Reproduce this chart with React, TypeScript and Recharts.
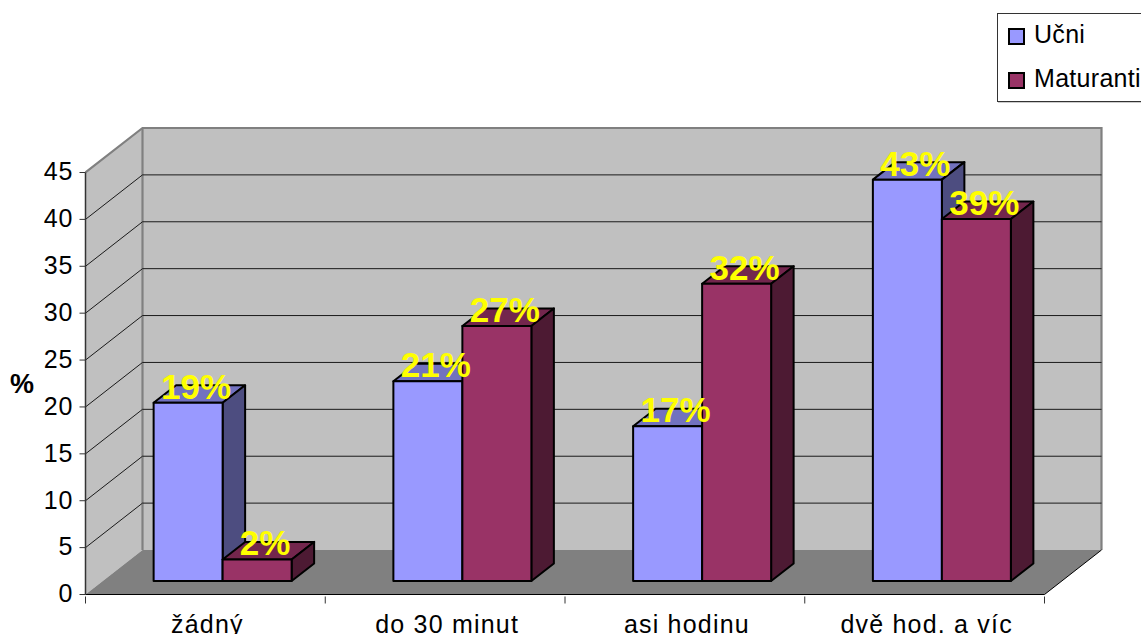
import { BarChart, Bar, XAxis, YAxis, CartesianGrid, LabelList, Legend } from 'recharts';

const categories = ['žádný', 'do 30 minut', 'asi hodinu', 'dvě hod. a víc'];
const ucni = [19, 21.3, 16.5, 42.8];
const maturanti = [2.3, 27.2, 31.7, 38.6];
const yTicks = [0, 5, 10, 15, 20, 25, 30, 35, 40, 45];
const seriesOrder = ['ucni', 'maturanti'];

const data = categories.map((name, i) => ({ name, ucni: ucni[i], maturanti: maturanti[i] }));

const FONT = '"Liberation Sans", Arial, sans-serif';

// fake 3D: floor/wall depth and how far the bars sit inside it
const WALL_DX = 57;
const WALL_DY = -44.5;
const BAR_SHIFT_X = 17.3;
const BAR_SHIFT_Y = -13.5;
const BAR_DEPTH_X = 22.5;
const BAR_DEPTH_Y = -17.5;

const COLORS = {
  ucni: { front: '#9999FF', top: '#7272BF', side: '#4D4D80' },
  maturanti: { front: '#993366', top: '#73264D', side: '#4D1A33' },
};

function Bar3D({ x, y, width, height, shades }: any) {
  const l = x + BAR_SHIFT_X;
  const t = y + BAR_SHIFT_Y;
  const r = l + width;
  const b = t + height;
  const dx = BAR_DEPTH_X;
  const dy = BAR_DEPTH_Y;
  return (
    <g stroke="#000" strokeWidth={2} strokeLinejoin="round">
      <polygon points={`${l},${t} ${r},${t} ${r + dx},${t + dy} ${l + dx},${t + dy}`} fill={shades.top} />
      <polygon points={`${r},${t} ${r + dx},${t + dy} ${r + dx},${b + dy} ${r},${b}`} fill={shades.side} />
      <rect x={l} y={t} width={width} height={height} fill={shades.front} />
    </g>
  );
}

// grid lines run along the left wall and the back wall; walls are painted with the baseline
function GridLine({ x1, x2, y1, index }: any) {
  const backY = y1 + WALL_DY;
  const backL = x1 + WALL_DX;
  const backR = x2 + WALL_DX;
  if (index === 0) {
    const topFront = y1 - 45 * 9.378;
    const topBack = topFront + WALL_DY;
    return (
      <g key="walls">
        <polygon points={`${x1},${y1} ${backL},${backY} ${backL},${topBack} ${x1},${topFront}`} fill="#C0C0C0" />
        <polygon points={`${backL},${backY} ${backR},${backY} ${backR},${topBack} ${backL},${topBack}`} fill="#C0C0C0" />
        <polygon points={`${x1},${y1} ${backL},${backY} ${backR},${backY} ${x2},${y1}`} fill="#808080" />
        <polyline
          points={`${x1},${topFront} ${backL},${topBack} ${backR},${topBack} ${backR},${backY}`}
          fill="none"
          stroke="#808080"
          strokeWidth={2.2}
        />
        <line x1={backL} y1={topBack} x2={backL} y2={backY} stroke="#808080" strokeWidth={2.2} />
        <line x1={x2} y1={y1} x2={backR} y2={backY} stroke="#000" strokeWidth={1} />
      </g>
    );
  }
  if (index === yTicks.length - 1) return <g key="top" />;
  return (
    <g key={index} stroke="#1a1a1a" strokeWidth={1}>
      <line x1={x1} y1={y1} x2={backL} y2={backY} />
      <line x1={backL} y1={backY} x2={backR} y2={backY} />
    </g>
  );
}

const TICK_STEP = 959 / categories.length;

function CategoryTick({ x, y, payload, index }: any) {
  const left = x - TICK_STEP / 2;
  return (
    <g>
      <line x1={left} y1={y - 6} x2={left} y2={y + 1} stroke="#333" />
      {index === categories.length - 1 && <line x1={left + TICK_STEP} y1={y - 6} x2={left + TICK_STEP} y2={y + 1} stroke="#333" />}
      <text x={x + 2} y={y + 30} textAnchor="middle" fontSize={25} letterSpacing={1.2} fill="#000" fontFamily={FONT}>
        {payload.value}
      </text>
    </g>
  );
}

function BarValue({ x, y, width, value }: any) {
  return (
    <text
      x={x + width / 2 + BAR_SHIFT_X + 8}
      y={y + BAR_SHIFT_Y - 4}
      textAnchor="middle"
      fontSize={35}
      fontWeight="bold"
      fill="#FFFF00"
      fontFamily={FONT}
    >
      {Math.round(value)}%
    </text>
  );
}

function LegendBox({ payload }: any) {
  return (
    <div
      style={{
        boxSizing: 'border-box',
        width: 170,
        height: 89,
        border: '1px solid #333',
        boxShadow: '1px 1px 0 #ccc',
        background: '#fff',
        fontFamily: FONT,
        fontSize: 25,
      }}
    >
      {(payload || []).map((item: any, i: number) => (
        <div key={item.value} style={{ position: 'absolute', left: 11, top: i === 0 ? 15 : 59, display: 'flex', alignItems: 'center', height: 17 }}>
          <span style={{ boxSizing: 'border-box', width: 17, height: 17, background: item.color, border: '2px solid #000' }} />
          <span style={{ marginLeft: 9, position: 'relative', top: -2, letterSpacing: 0.3, whiteSpace: 'nowrap', color: '#000' }}>{item.value}</span>
        </div>
      ))}
    </div>
  );
}

export default function App() {
  return (
    <div style={{ position: 'absolute', left: 0, top: 0, width: 1141, height: 634, overflow: 'hidden', background: '#fff' }}>
      <BarChart
        width={1141}
        height={634}
        data={data}
        margin={{ top: 172.5, right: 96.5, bottom: 0, left: 0 }}
        barCategoryGap="21.2%"
        barGap={0}
      >
        <CartesianGrid horizontal={GridLine as any} vertical={false} />
        <XAxis
          dataKey="name"
          height={39.5}
          interval={0}
          tick={CategoryTick as any}
          tickLine={false}
          axisLine={{ stroke: '#000' }}
        />
        <YAxis
          width={85.5}
          domain={[0, 45]}
          ticks={yTicks}
          interval={0}
          tickSize={6}
          tickMargin={6}
          tick={{ fontSize: 25, fill: '#000', fontFamily: FONT, letterSpacing: 1, dy: -1 }}
          tickLine={{ stroke: '#333' }}
          axisLine={{ stroke: '#333', strokeWidth: 1.5 }}
          label={{ value: '%', position: 'insideLeft', offset: 10, fontSize: 27, fontWeight: 'bold', fill: '#000', fontFamily: FONT }}
        />
        <Legend
          layout="vertical"
          align="center"
          verticalAlign="middle"
          content={LegendBox as any}
          itemSorter={(item: any) => seriesOrder.indexOf(item.dataKey)}
          wrapperStyle={{ left: 997, top: 13, width: 170, height: 89 }}
        />
        <Bar dataKey="ucni" name="Učni" fill={COLORS.ucni.front} isAnimationActive={false} shape={(p: any) => <Bar3D {...p} shades={COLORS.ucni} />}>
          <LabelList dataKey="ucni" content={BarValue as any} />
        </Bar>
        <Bar dataKey="maturanti" name="Maturanti" fill={COLORS.maturanti.front} isAnimationActive={false} shape={(p: any) => <Bar3D {...p} shades={COLORS.maturanti} />}>
          <LabelList dataKey="maturanti" content={BarValue as any} />
        </Bar>
      </BarChart>
    </div>
  );
}
